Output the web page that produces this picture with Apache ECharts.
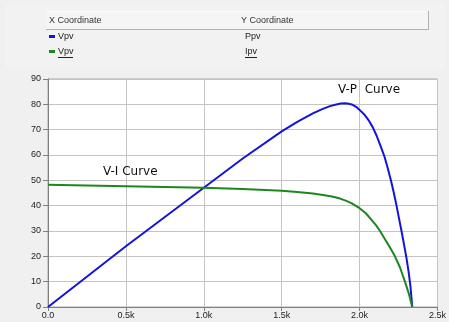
<!DOCTYPE html>
<html><head><meta charset="utf-8">
<script src="https://cdn.jsdelivr.net/npm/echarts@6/dist/echarts.min.js"></script>
<style>html,body{margin:0;padding:0;background:#f0f0f0;}#c{width:449px;height:322px;}</style>
</head><body><div id="c"></div>
<script>
// Data
const xTickLabels = ['0.0','0.5k','1.0k','1.5k','2.0k','2.5k'];
const yTickLabels = ['0','10','20','30','40','50','60','70','80','90'];
const vpvP = [0,500,1000,1250,1500,1600,1700,1760,1810,1850,1880,1905,1930,1955,1978,2000,2030,2057,2084,2110,2135,2159,2180,2201,2220,2237,2253,2269,2285,2301,2315,2327,2338];
const ppv  = [0,24,47.1,58.6,69.3,73.1,76.4,78.1,79.3,79.95,80.3,80.4,80.2,79.8,79.0,77.8,76.0,73.8,71.0,67.5,63.5,59.5,55,50,45,40,35,30,24.7,19.3,13.8,7.8,0];
const vpvI = [0,500,1000,1250,1500,1600,1700,1775,1830,1875,1915,1950,2000,2040,2078,2105,2131,2160,2195,2227,2260,2291,2315,2338];
const ipv  = [48.3,47.7,47.1,46.6,45.9,45.4,44.8,44.1,43.5,42.8,41.9,40.9,39.0,37.0,34.3,32.3,30,27,23.5,20,15.5,10,5.5,0];
const seriesNames = ['Ppv','Ipv'];
const annotations = ['V-P  Curve','V-I Curve'];

const chart = echarts.init(document.getElementById('c'), null, {renderer:'canvas'});
const pair = (xs, ys) => xs.map((x,i)=>[x, ys[i]]);
const axisFont = {fontFamily:'Liberation Sans, Arial, sans-serif', fontSize:9, color:'#222'};
chart.setOption({
  backgroundColor:'#f0f0f0',
  animation:false,
  grid:{left:48, right:10, top:79, bottom:15, show:true, backgroundColor:'#ffffff', borderColor:'#a8a8a8', borderWidth:1},
  xAxis:{type:'value', min:0, max:2500, interval:500,
    axisLine:{show:true, lineStyle:{color:'#808080'}},
    axisTick:{show:true, length:4, lineStyle:{color:'#808080'}},
    splitLine:{show:true, lineStyle:{color:'#c4c4c4', width:1}},
    axisLabel:Object.assign({margin:4, formatter:(v)=>xTickLabels[Math.round(v/500)]}, axisFont)},
  yAxis:{type:'value', min:0, max:90, interval:10,
    axisLine:{show:true, lineStyle:{color:'#808080'}},
    axisTick:{show:true, length:5, lineStyle:{color:'#808080'}},
    splitLine:{show:true, lineStyle:{color:'#c4c4c4', width:1}},
    axisLabel:Object.assign({margin:7, formatter:(v)=>yTickLabels[Math.round(v/10)]}, axisFont)},
  series:[
    {name:seriesNames[0], type:'line', data:pair(vpvP, ppv), showSymbol:false, smooth:false, lineStyle:{color:'#1414d8', width:2, join:'round'}, itemStyle:{color:'#1414d8'}},
    {name:seriesNames[1], type:'line', data:pair(vpvI, ipv), showSymbol:false, smooth:false, lineStyle:{color:'#1e861e', width:2, join:'round'}, itemStyle:{color:'#1e861e'}}
  ],
  graphic:[
    {type:'rect', z:-1, shape:{x:5, y:4, width:440, height:64}, style:{fill:'#f2f2f2'}},
    {type:'rect', shape:{x:46, y:11, width:382, height:18}, style:{fill:'#f5f5f5', stroke:null}},
    {type:'line', shape:{x1:46, y1:29.5, x2:428, y2:29.5}, style:{stroke:'#b0b0b0', lineWidth:1}},
    {type:'line', shape:{x1:428.5, y1:11, x2:428.5, y2:30}, style:{stroke:'#b0b0b0', lineWidth:1}},
    {type:'line', shape:{x1:46, y1:11.5, x2:428, y2:11.5}, style:{stroke:'#fafafa', lineWidth:1}},
    {type:'text', x:49, y:21, style:{text:'X Coordinate', fill:'#333', font:'9px "Liberation Sans", Arial', textVerticalAlign:'middle'}},
    {type:'text', x:241, y:21, style:{text:'Y Coordinate', fill:'#333', font:'9px "Liberation Sans", Arial', textVerticalAlign:'middle'}},
    {type:'rect', shape:{x:49, y:35, width:6, height:3}, style:{fill:'#1414d8'}},
    {type:'text', x:58, y:37, style:{text:'Vpv', fill:'#222', font:'9px "Liberation Sans", Arial', textVerticalAlign:'middle'}},
    {type:'text', x:245, y:37, style:{text:seriesNames[0], fill:'#222', font:'9px "Liberation Sans", Arial', textVerticalAlign:'middle'}},
    {type:'rect', shape:{x:49, y:50, width:6, height:3}, style:{fill:'#1e861e'}},
    {type:'text', x:58, y:52, style:{text:'Vpv', fill:'#222', font:'9px "Liberation Sans", Arial', textVerticalAlign:'middle'}},
    {type:'line', shape:{x1:58, y1:57.5, x2:73, y2:57.5}, style:{stroke:'#222', lineWidth:1}},
    {type:'text', x:245, y:52, style:{text:seriesNames[1], fill:'#222', font:'9px "Liberation Sans", Arial', textVerticalAlign:'middle'}},
    {type:'line', shape:{x1:245, y1:57.5, x2:257, y2:57.5}, style:{stroke:'#222', lineWidth:1}},
    {type:'text', x:338, y:90, z:10, style:{text:annotations[0], fill:'#111', font:'12px "DejaVu Sans"', textVerticalAlign:'middle'}},
    {type:'text', x:103, y:172, z:10, style:{text:annotations[1], fill:'#111', font:'12px "DejaVu Sans"', textVerticalAlign:'middle'}}
  ]
});
</script></body></html>
